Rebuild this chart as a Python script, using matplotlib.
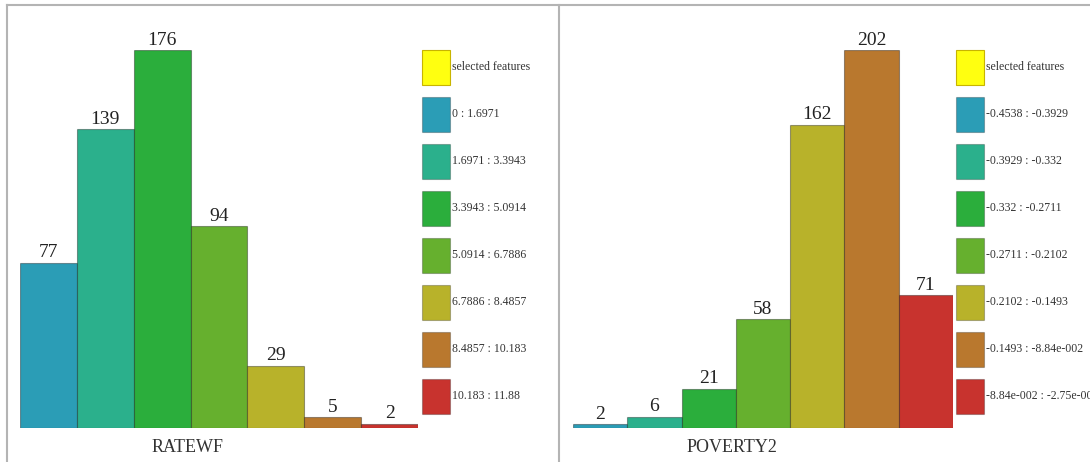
import matplotlib.pyplot as plt
from matplotlib.patches import Rectangle
from matplotlib.lines import Line2D

plt.rcParams['font.family'] = ['Liberation Serif', 'DejaVu Serif']

# Datos de los dos histogramas
colores = ["#2B9DB6", "#2BB08C", "#2BAE3C", "#66B02E", "#B8B22A", "#B9782E", "#C8332E"]
amarillo = "#FFFF10"

cuentas_rate = [77, 139, 176, 94, 29, 5, 2]
clases_rate = ["0 : 1.6971", "1.6971 : 3.3943", "3.3943 : 5.0914", "5.0914 : 6.7886",
               "6.7886 : 8.4857", "8.4857 : 10.183", "10.183 : 11.88"]

cuentas_pov = [2, 6, 21, 58, 162, 202, 71]
clases_pov = ["-0.4538 : -0.3929", "-0.3929 : -0.332", "-0.332 : -0.2711", "-0.2711 : -0.2102",
              "-0.2102 : -0.1493", "-0.1493 : -8.84e-002", "-8.84e-002 : -2.75e-002"]

W, H = 1090, 462
fig = plt.figure(figsize=(W / 100, H / 100), dpi=100)


def px(x0, y0, w, h):
    # rectangulo en pixeles (origen arriba-izquierda) -> fraccion de figura
    return [x0 / W, 1 - (y0 + h) / H, w / W, h / H]


def panel(x0, x1, cuentas, clases, titulo, x_titulo, x_ley):
    ax = fig.add_axes(px(x0, 50, x1 - x0, 378))
    n = len(cuentas)
    xs = list(range(n))
    ax.bar(xs, cuentas, width=1.0, align="edge", color=colores,
           edgecolor=(0, 0, 0, 0.35), linewidth=0.8)
    for i, v in enumerate(cuentas):
        ax.annotate(str(v), (i + 0.5, v), xytext=(0, 1), textcoords="offset points",
                    ha="center", va="bottom", fontsize=14, color="#222222",
                    annotation_clip=False)
    ax.set_xlim(0, n)
    ax.set_ylim(0, max(cuentas))
    ax.axis("off")

    fig.text(x_titulo / W, 1 - 447 / H, titulo, ha="center", va="center",
             fontsize=13, color="#333333")

    # leyenda dibujada a mano
    etiquetas = ["selected features"] + clases
    relleno = [amarillo] + colores
    for k, (lab, c) in enumerate(zip(etiquetas, relleno)):
        y = 50 + 47 * k
        ec = "#C8B400" if k == 0 else (0, 0, 0, 0.25)
        fig.add_artist(Rectangle((x_ley / W, 1 - (y + 35) / H), 28 / W, 35 / H,
                                 transform=fig.transFigure, facecolor=c,
                                 edgecolor=ec, linewidth=0.8))
        fig.text((x_ley + 30) / W, 1 - (y + 17) / H, lab, ha="left", va="center",
                 fontsize=8.5, color="#333333")


panel(20, 418, cuentas_rate, clases_rate, "RATEWF", 188, 422)
panel(573, 953, cuentas_pov, clases_pov, "POVERTY2", 732, 956)

# marcos de los paneles
gris = "#B4B4B4"
fig.add_artist(Line2D([7 / W, 1], [1 - 5 / H, 1 - 5 / H], color=gris, lw=1.5,
                      transform=fig.transFigure))
fig.add_artist(Line2D([7 / W, 7 / W], [0, 1 - 5 / H], color=gris, lw=1.5,
                      transform=fig.transFigure))
fig.add_artist(Line2D([559 / W, 559 / W], [0, 1 - 5 / H], color=gris, lw=1.5,
                      transform=fig.transFigure))

fig.savefig("out.png", dpi=100)
